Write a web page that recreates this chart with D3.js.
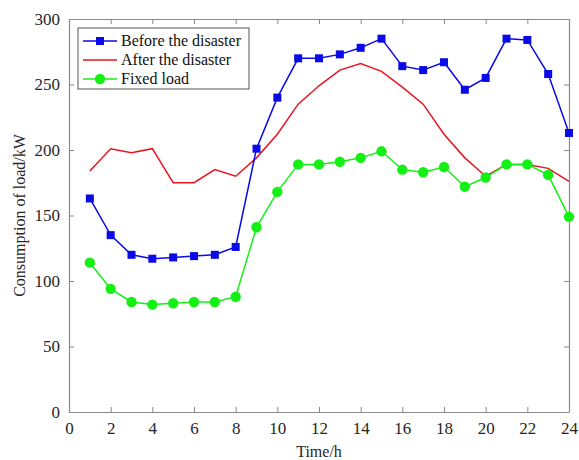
<!DOCTYPE html>
<html>
<head>
<meta charset="utf-8">
<script src="https://cdn.jsdelivr.net/npm/d3@7"></script>
<style>
  html, body { margin: 0; padding: 0; background: #fff; }
  svg { display: block; font-family: "Liberation Serif", "Times New Roman", serif; }
  svg text { font-family: "Liberation Serif", "Times New Roman", serif !important; }
</style>
</head>
<body>
<svg id="chart" width="579" height="460"></svg>
<script>
// Hourly load profile (kW)
const hours = d3.range(1, 25);
const beforeDisaster = [163, 135, 120, 117, 118, 119, 120, 126, 201, 240, 270, 270,
                        273, 278, 285, 264, 261, 267, 246, 255, 285, 284, 258, 213];
const afterDisaster  = [184, 201, 198, 201, 175, 175, 185, 180, 194, 212, 235, 249,
                        261, 266, 260, 248, 235, 212, 194, 180, 189, 189, 186, 176];
const fixedLoad      = [114, 94, 84, 82, 83, 84, 84, 88, 141, 168, 189, 189,
                        191, 194, 199, 185, 183, 187, 172, 179, 189, 189, 181, 149];
const xTicks = d3.range(0, 25, 2);
const yTicks = d3.range(0, 301, 50);
const seriesNames = ["Before the disaster", "After the disaster", "Fixed load"];

const svg = d3.select("#chart");
const margin = { left: 69, right: 10, top: 19, bottom: 48 };
const W = 579, H = 460;
const x = d3.scaleLinear().domain([0, 24]).range([margin.left, W - margin.right]);
const y = d3.scaleLinear().domain([0, 300]).range([H - margin.bottom, margin.top]);

const axisColor = "#8a8a8a";
const textColor = "#262626";
const tickLen = 5;

// Box axes with inward ticks
const g = svg.append("g");
function styleAxis(sel, showLabels) {
  sel.attr("font-family", "Liberation Serif, serif").attr("font-size", 17);
  sel.select(".domain").attr("stroke", axisColor).attr("stroke-width", 1.2);
  sel.selectAll(".tick line").attr("stroke", axisColor).attr("stroke-width", 1);
  sel.selectAll(".tick text").attr("fill", textColor)
     .style("display", showLabels ? null : "none");
}
g.append("g").attr("transform", `translate(0,${y(0)})`)
  .call(d3.axisBottom(x).tickValues(xTicks).tickSize(-tickLen).tickPadding(10).tickSizeOuter(0))
  .call(s => styleAxis(s, true));
g.append("g").attr("transform", `translate(0,${y(300)})`)
  .call(d3.axisTop(x).tickValues(xTicks).tickSize(-tickLen).tickSizeOuter(0))
  .call(s => styleAxis(s, false));
g.append("g").attr("transform", `translate(${x(0)},0)`)
  .call(d3.axisLeft(y).tickValues(yTicks).tickSize(-tickLen).tickPadding(9).tickSizeOuter(0))
  .call(s => styleAxis(s, true));
g.append("g").attr("transform", `translate(${x(24)},0)`)
  .call(d3.axisRight(y).tickValues(yTicks).tickSize(-tickLen).tickSizeOuter(0))
  .call(s => styleAxis(s, false));

// Axis titles
svg.append("text").attr("x", (x(0) + x(24)) / 2).attr("y", 457)
  .attr("text-anchor", "middle").attr("font-size", 16).attr("fill", textColor)
  .text("Time/h");
svg.append("text").attr("transform", `translate(25,${(y(0) + y(300)) / 2}) rotate(-90)`)
  .attr("text-anchor", "middle").attr("font-size", 16).attr("fill", textColor)
  .text("Consumption of load/kW");

const line = d3.line().x((d, i) => x(hours[i])).y(d => y(d));
const blue = "#0a0ae6", red = "#e8141e", green = "#14f014";

// After the disaster (line only)
svg.append("path").datum(afterDisaster).attr("d", line)
  .attr("fill", "none").attr("stroke", red).attr("stroke-width", 1.5);

// Fixed load (line + circles)
svg.append("path").datum(fixedLoad).attr("d", line)
  .attr("fill", "none").attr("stroke", green).attr("stroke-width", 1.5);
svg.append("g").selectAll("circle").data(fixedLoad).join("circle")
  .attr("cx", (d, i) => x(hours[i])).attr("cy", d => y(d)).attr("r", 5.2)
  .attr("fill", green);

// Before the disaster (line + squares)
svg.append("path").datum(beforeDisaster).attr("d", line)
  .attr("fill", "none").attr("stroke", blue).attr("stroke-width", 1.5);
svg.append("g").selectAll("rect").data(beforeDisaster).join("rect")
  .attr("x", (d, i) => x(hours[i]) - 4).attr("y", d => y(d) - 4)
  .attr("width", 8).attr("height", 8).attr("fill", blue);

// Legend
const lg = svg.append("g").attr("transform", "translate(78,28)");
lg.append("rect").attr("width", 171).attr("height", 61)
  .attr("fill", "#fff").attr("stroke", "#555").attr("stroke-width", 1);
const colors = [blue, red, green];
seriesNames.forEach((name, i) => {
  const cy = 13 + i * 19;
  lg.append("line").attr("x1", 5).attr("x2", 39).attr("y1", cy).attr("y2", cy)
    .attr("stroke", colors[i]).attr("stroke-width", 1.5);
  if (i === 0) {
    lg.append("rect").attr("x", 22 - 4).attr("y", cy - 4).attr("width", 8).attr("height", 8).attr("fill", blue);
  } else if (i === 2) {
    lg.append("circle").attr("cx", 22).attr("cy", cy).attr("r", 5.2).attr("fill", green);
  }
  lg.append("text").attr("x", 43).attr("y", cy + 5).attr("font-size", 16)
    .attr("fill", "#111").text(name);
});
</script>
</body>
</html>
